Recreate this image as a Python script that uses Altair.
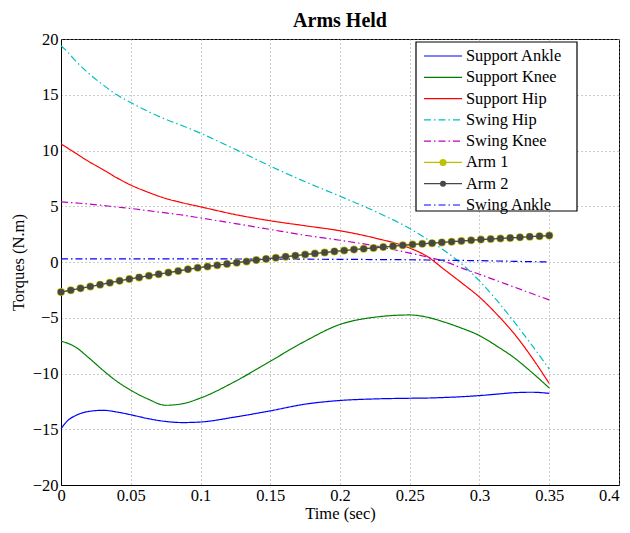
import altair as alt
import pandas as pd

# ---- data ----
T = [0, 0.005, 0.01, 0.02, 0.03, 0.04, 0.05, 0.0625, 0.075, 0.0875, 0.1, 0.125,
     0.15, 0.175, 0.2, 0.225, 0.25, 0.2625, 0.275, 0.2875, 0.3, 0.3125, 0.325, 0.3375, 0.35]

support_ankle = [-14.95, -14.2, -13.8, -13.4, -13.3, -13.45, -13.7, -14.05, -14.3, -14.4, -14.35, -13.9,
                 -13.35, -12.75, -12.42, -12.28, -12.22, -12.2, -12.15, -12.08, -11.98, -11.85, -11.72, -11.68, -11.78]
support_knee = [-7.1, -7.3, -7.6, -8.6, -9.7, -10.7, -11.5, -12.3, -12.85, -12.7, -12.2, -10.7,
                -8.9, -7.1, -5.6, -4.95, -4.75, -4.95, -5.4, -5.95, -6.6, -7.55, -8.6, -9.9, -11.3]
support_hip = [10.6, 10.2, 9.8, 9.0, 8.3, 7.55, 6.9, 6.25, 5.7, 5.3, 4.95, 4.25,
               3.7, 3.25, 2.8, 2.15, 1.25, 0.5, -0.7, -1.9, -3.15, -4.7, -6.45, -8.55, -10.9]
swing_hip = [19.4, 18.8, 18.1, 16.9, 15.9, 15.0, 14.3, 13.5, 12.8, 12.2, 11.55, 10.1,
             8.6, 7.2, 5.9, 4.55, 3.0, 2.05, 1.0, -0.2, -1.7, -3.45, -5.4, -7.45, -9.6]
swing_knee = [5.4, 5.35, 5.3, 5.2, 5.07, 4.93, 4.8, 4.6, 4.4, 4.2, 3.95, 3.45,
              2.92, 2.4, 1.95, 1.45, 0.8, 0.45, 0.05, -0.55, -1.1, -1.68, -2.25, -2.83, -3.4]
swing_ankle = [0.28, 0.28, 0.28, 0.28, 0.28, 0.28, 0.28, 0.28, 0.28, 0.28, 0.28, 0.27,
               0.26, 0.25, 0.24, 0.22, 0.2, 0.18, 0.16, 0.14, 0.12, 0.09, 0.06, 0.03, 0.0]

T_ARM = [0.007 * k for k in range(51)]
arm = [-2.70, -2.53, -2.36, -2.20, -2.03, -1.86, -1.69, -1.52, -1.38, -1.23,
       -1.09, -0.95, -0.81, -0.66, -0.52, -0.40, -0.29, -0.17, -0.06, 0.05,
       0.17, 0.28, 0.38, 0.48, 0.57, 0.67, 0.76, 0.85, 0.95, 1.03,
       1.11, 1.19, 1.26, 1.34, 1.42, 1.50, 1.57, 1.63, 1.69, 1.76,
       1.82, 1.88, 1.95, 2.01, 2.06, 2.11, 2.16, 2.21, 2.27, 2.32, 2.37]

series_names = ["Support Ankle", "Support Knee", "Support Hip", "Swing Hip",
                "Swing Knee", "Arm 1", "Arm 2", "Swing Ankle"]
series_colors = ["#0000ff", "#008000", "#ff0000", "#00bfbf",
                 "#bf00bf", "#bfbf00", "#474747", "#0000ff"]
DD = [7, 3, 1.5, 3]
series_dash = [[1, 0], [1, 0], [1, 0], DD, DD, [1, 0], [1, 0], DD]
series_width = [1.2, 1.2, 1.2, 1.2, 1.2, 4.5, 3.2, 1.2]

rows = []
for name, vals in [("Support Ankle", support_ankle), ("Support Knee", support_knee),
                   ("Support Hip", support_hip), ("Swing Hip", swing_hip),
                   ("Swing Knee", swing_knee), ("Swing Ankle", swing_ankle)]:
    for t, v in zip(T, vals):
        rows.append({"series": name, "t": t, "v": v})
for name in ["Arm 1", "Arm 2"]:
    for t, v in zip(T_ARM, arm):
        rows.append({"series": name, "t": t, "v": v})
df = pd.DataFrame(rows)
base_df = df[~df["series"].isin(["Arm 1", "Arm 2"])]
arm1_df = df[df["series"] == "Arm 1"]
arm2_df = df[df["series"] == "Arm 2"]
leg_df = pd.DataFrame({"series": series_names})

FONT = "Liberation Serif"

color_scale = alt.Scale(domain=series_names, range=series_colors)
dash_scale = alt.Scale(domain=series_names, range=series_dash)
width_scale = alt.Scale(domain=series_names, range=series_width)

x = alt.X("t:Q", title="Time (sec)",
          scale=alt.Scale(domain=[0, 0.4], nice=False, zero=False),
          axis=alt.Axis(values=[0, 0.05, 0.1, 0.15, 0.2, 0.25, 0.3, 0.35, 0.4], format="~g",
                        labelFlush=False, labelPadding=2, titlePadding=2,
                        labelAlign={"condition": {"test": "datum.value >= 0.39", "value": "right"},
                                    "value": "center"}))
y = alt.Y("v:Q", title="Torques (N.m)",
          scale=alt.Scale(domain=[-20, 20], nice=False),
          axis=alt.Axis(values=[-20, -15, -10, -5, 0, 5, 10, 15, 20], format="d",
                        labelFlush=False, labelPadding=3, titlePadding=6))

style_enc = dict(
    color=alt.Color("series:N", scale=color_scale, legend=None),
    strokeDash=alt.StrokeDash("series:N", scale=dash_scale, legend=None),
    strokeWidth=alt.StrokeWidth("series:N", scale=width_scale, legend=None),
)

base_lines = alt.Chart(base_df).mark_line(interpolate="monotone").encode(x=x, y=y, detail="series:N", **style_enc)
arm1_line = alt.Chart(arm1_df).mark_line().encode(x=x, y=y, **style_enc)
arm2_line = alt.Chart(arm2_df).mark_line().encode(x=x, y=y, **style_enc)
arm1_pts = alt.Chart(arm1_df).mark_circle(size=64, opacity=1, color="#bfbf00").encode(x=x, y=y)
arm2_pts = alt.Chart(arm2_df).mark_circle(size=44, opacity=1, color="#474747").encode(x=x, y=y)
data_layer = alt.layer(base_lines, arm1_line, arm1_pts, arm2_line, arm2_pts)

# ---- legend box (drawn inside the plot, top right) ----
ly = alt.Y("series:N", scale=alt.Scale(type="point", domain=series_names, range=[17, 166], padding=0),
           axis=None)
leg_box = alt.Chart(pd.DataFrame({"box": [0]})).mark_rect(
    fill="white", stroke="black", strokeWidth=1.2).encode(
    x=alt.value(355), x2=alt.value(516), y=alt.value(3), y2=alt.value(172))
leg_lines = alt.Chart(leg_df).mark_rule().encode(
    x=alt.value(363), x2=alt.value(401), y=ly, **style_enc)
leg_pt1 = alt.Chart(leg_df[leg_df["series"] == "Arm 1"]).mark_circle(
    size=50, opacity=1, color="#bfbf00").encode(x=alt.value(382), y=ly)
leg_pt2 = alt.Chart(leg_df[leg_df["series"] == "Arm 2"]).mark_circle(
    size=36, opacity=1, color="#474747").encode(x=alt.value(382), y=ly)
leg_text = alt.Chart(leg_df).mark_text(
    align="left", baseline="middle", font=FONT, fontSize=16.4, color="black").encode(
    x=alt.value(405), y=ly, text="series:N")
legend_layer = alt.layer(leg_box, leg_lines, leg_pt1, leg_pt2, leg_text)

chart = alt.layer(data_layer, legend_layer).resolve_scale(y="independent").properties(
    width=558, height=446, background="white",
    autosize=alt.AutoSizeParams(type="none"),
    padding={"left": 53, "top": 31, "right": 2, "bottom": 38},
    title=alt.Title("Arms Held", font=FONT, fontSize=20, fontWeight="bold", color="black", offset=0),
).configure_view(stroke="black", strokeWidth=1).configure_axis(
    labelFont=FONT, titleFont=FONT, labelFontSize=16.5, titleFontSize=16.5,
    labelColor="black", titleColor="black", titleFontWeight="normal",
    grid=True, gridColor="#999999", gridDash=[1, 3], gridWidth=1, gridOpacity=1,
    domainColor="black", ticks=False,
)

chart.save("out.html", embed_options={"renderer": "svg", "actions": False})
